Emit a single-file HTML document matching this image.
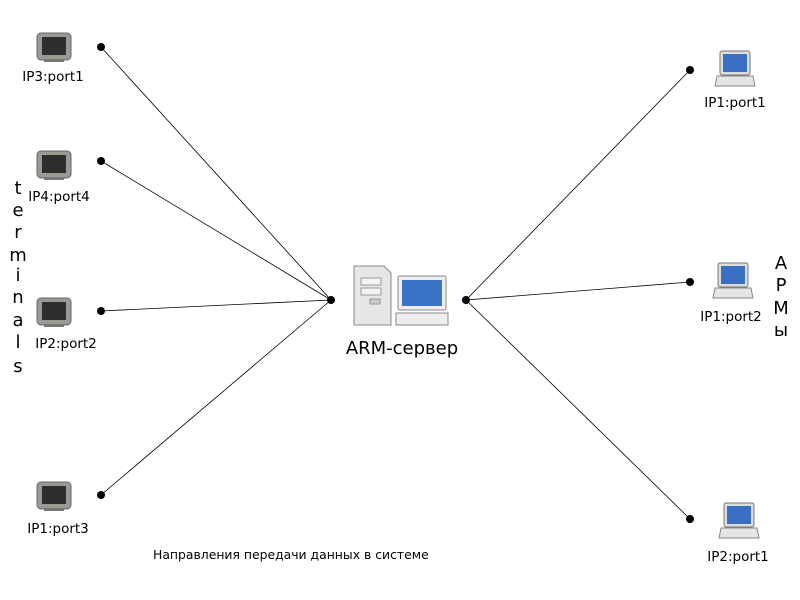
<!DOCTYPE html>
<html><head><meta charset="utf-8"><style>
body{margin:0;background:#fff;}
svg{display:block;font-family:"DejaVu Sans","Liberation Sans",sans-serif;}
</style></head><body>
<svg width="800" height="600" viewBox="0 0 800 600" xmlns="http://www.w3.org/2000/svg">
<rect width="800" height="600" fill="#fff"/>
<g stroke="#000" stroke-width="0.8">
<line x1="101" y1="47" x2="331" y2="300"/>
<line x1="101" y1="161" x2="331" y2="300"/>
<line x1="101" y1="311" x2="331" y2="300"/>
<line x1="101" y1="495" x2="331" y2="300"/>
<line x1="466" y1="300" x2="690" y2="70"/>
<line x1="466" y1="300" x2="690" y2="282"/>
<line x1="466" y1="300" x2="690" y2="519"/>
</g>
<g fill="#000">
<circle cx="101" cy="47" r="4"/><circle cx="101" cy="161" r="4"/><circle cx="101" cy="311" r="4"/><circle cx="101" cy="495" r="4"/>
<circle cx="331" cy="300" r="4"/><circle cx="466" cy="300" r="4"/>
<circle cx="690" cy="70" r="4"/><circle cx="690" cy="282" r="4"/><circle cx="690" cy="519" r="4"/>
</g>
<g transform="translate(36,32)">
<rect x="1" y="1" width="34" height="27" rx="4" fill="#9a9a94" stroke="#666"/>
<rect x="6" y="5" width="24" height="18" fill="#2d2f2f"/>
<rect x="8" y="27" width="20" height="3" fill="#777"/>
</g>
<g transform="translate(36,150)">
<rect x="1" y="1" width="34" height="27" rx="4" fill="#9a9a94" stroke="#666"/>
<rect x="6" y="5" width="24" height="18" fill="#2d2f2f"/>
<rect x="8" y="27" width="20" height="3" fill="#777"/>
</g>
<g transform="translate(36,297)">
<rect x="1" y="1" width="34" height="27" rx="4" fill="#9a9a94" stroke="#666"/>
<rect x="6" y="5" width="24" height="18" fill="#2d2f2f"/>
<rect x="8" y="27" width="20" height="3" fill="#777"/>
</g>
<g transform="translate(36,481)">
<rect x="1" y="1" width="34" height="27" rx="4" fill="#9a9a94" stroke="#666"/>
<rect x="6" y="5" width="24" height="18" fill="#2d2f2f"/>
<rect x="8" y="27" width="20" height="3" fill="#777"/>
</g>
<g font-size="13.5" fill="#000" text-anchor="middle">
<text x="53" y="81">IP3:port1</text>
<text x="59" y="201">IP4:port4</text>
<text x="66" y="348">IP2:port2</text>
<text x="58" y="533">IP1:port3</text>
<text x="735" y="107">IP1:port1</text>
<text x="731" y="321">IP1:port2</text>
<text x="738" y="561">IP2:port1</text>
</g>
<g transform="translate(716,50)">
<rect x="4" y="1" width="30" height="24" rx="2" fill="#ddd" stroke="#777"/>
<rect x="7" y="4" width="24" height="18" fill="#3a6fc4"/>
<path d="M1 26 H37 L39 36 H-1 Z" fill="#e5e5e5" stroke="#888"/>
</g>
<g transform="translate(714,262)">
<rect x="4" y="1" width="30" height="24" rx="2" fill="#ddd" stroke="#777"/>
<rect x="7" y="4" width="24" height="18" fill="#3a6fc4"/>
<path d="M1 26 H37 L39 36 H-1 Z" fill="#e5e5e5" stroke="#888"/>
</g>
<g transform="translate(720,502)">
<rect x="4" y="1" width="30" height="24" rx="2" fill="#ddd" stroke="#777"/>
<rect x="7" y="4" width="24" height="18" fill="#3a6fc4"/>
<path d="M1 26 H37 L39 36 H-1 Z" fill="#e5e5e5" stroke="#888"/>
</g>
<path d="M354 266 H384 L391 273 V325 H354 Z" fill="#e6e6e4" stroke="#888"/>
<rect x="361" y="278" width="20" height="7" fill="#f4f4f4" stroke="#999"/>
<rect x="361" y="288" width="20" height="7" fill="#f4f4f4" stroke="#999"/>
<rect x="370" y="299" width="10" height="5" fill="#ccc" stroke="#999"/>
<rect x="398" y="276" width="48" height="34" rx="2" fill="#eee" stroke="#888"/>
<rect x="402" y="280" width="40" height="26" fill="#3a72c8"/>
<rect x="396" y="313" width="52" height="12" fill="#eee" stroke="#888"/>
<text x="402" y="354" font-size="18" text-anchor="middle" fill="#000">ARM-сервер</text>
<g font-size="18" fill="#000" text-anchor="middle">
<text x="18" y="194">t</text><text x="18" y="216">e</text><text x="18" y="238">r</text><text x="18" y="261">m</text><text x="18" y="281">i</text><text x="18" y="303">n</text><text x="18" y="326">a</text><text x="18" y="348">l</text><text x="18" y="372">s</text>
<text x="781" y="269">А</text><text x="781" y="291">Р</text><text x="781" y="314">М</text><text x="781" y="336">ы</text>
</g>
<text x="153" y="559" font-size="12.4" fill="#000">Направления передачи данных в системе</text>
</svg>
</body></html>
